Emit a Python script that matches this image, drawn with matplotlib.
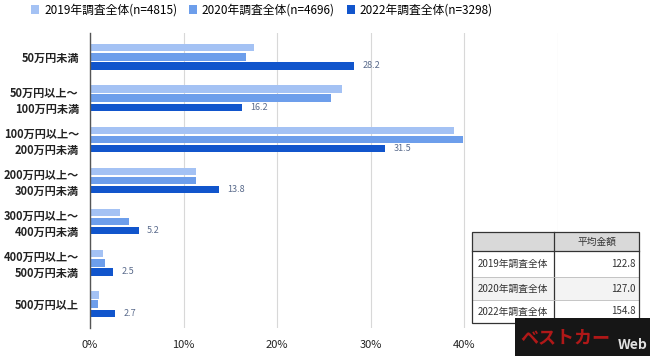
import matplotlib.pyplot as plt
from matplotlib.patches import Rectangle
import numpy as np

plt.rcParams['font.family'] = ['Noto Sans CJK JP', 'DejaVu Sans']

categories = ['50万円未満', '50万円以上～\n100万円未満', '100万円以上～\n200万円未満',
              '200万円以上～\n300万円未満', '300万円以上～\n400万円未満',
              '400万円以上～\n500万円未満', '500万円以上']
series_names = ['2019年調査全体(n=4815)', '2020年調査全体(n=4696)', '2022年調査全体(n=3298)']
v2019 = [17.5, 26.9, 38.9, 11.3, 3.2, 1.4, 1.0]
v2020 = [16.7, 25.8, 39.8, 11.3, 4.2, 1.6, 0.9]
v2022 = [28.2, 16.2, 31.5, 13.8, 5.2, 2.5, 2.7]
table_rows = ['2019年調査全体', '2020年調査全体', '2022年調査全体']
table_vals = ['122.8', '127.0', '154.8']
colors = ['#a4c2f4', '#6d9eeb', '#1155cc']


def main():
    fig = plt.figure(figsize=(6.5, 3.56), dpi=100)
    ax = fig.add_axes([90 / 650, 1 - 328 / 356, 468 / 650, 295 / 356])

    y = np.arange(len(categories))
    pitch = 0.22
    h = 0.175
    for i, (vals, c) in enumerate(zip([v2019, v2020, v2022], colors)):
        ax.barh(y + (i - 1) * pitch, vals, height=h, color=c, label=series_names[i], zorder=3)
    for yy, v in zip(y, v2022):
        ax.text(v + 0.9, yy + pitch, f'{v:.1f}', va='center', ha='left',
                fontsize=6.5, color='#5a6b8c')

    ax.set_ylim(len(categories) - 0.5 + 0.08, -0.5 - 0.08)
    ax.set_xlim(0, 50)
    ax.set_xticks([0, 10, 20, 30, 40, 50])
    ax.set_xticklabels(['0%', '10%', '20%', '30%', '40%', ''])
    ax.set_yticks(y)
    ax.set_yticklabels(categories, fontsize=8, fontweight='bold', linespacing=1.3)
    ax.tick_params(length=0, pad=8, colors='#222222')
    ax.tick_params(axis='x', labelsize=8, pad=9)
    ax.grid(axis='x', color='#d8d8d8', lw=0.8, zorder=0)
    for s in ['top', 'right', 'bottom']:
        ax.spines[s].set_visible(False)
    ax.spines['left'].set_color('#555555')
    ax.spines['left'].set_linewidth(1.0)
    ax.spines['left'].set_zorder(4)

    # Legend across the top
    fig.legend(*ax.get_legend_handles_labels(), loc='center left',
               bbox_to_anchor=(31 / 650, 1 - 10 / 356), ncol=3, frameon=False,
               fontsize=8.5, handlelength=0.7, handleheight=0.7, handletextpad=0.4,
               columnspacing=1.0, borderaxespad=0, borderpad=0)

    # Summary table in the lower right
    W, H = 650, 356

    def fx(px):
        return px / W

    def fy(py):
        return 1 - py / H

    x0, x1, xm = 472, 639, 554
    rows_y = [232, 251, 277, 300, 323]
    fig.patches.append(Rectangle((fx(x0), fy(rows_y[4])), fx(x1) - fx(x0),
                                 fy(rows_y[0]) - fy(rows_y[4]), transform=fig.transFigure,
                                 facecolor='white', edgecolor='none', zorder=5))
    fig.patches.append(Rectangle((fx(x0), fy(rows_y[1])), fx(x1) - fx(x0),
                                 fy(rows_y[0]) - fy(rows_y[1]), transform=fig.transFigure,
                                 facecolor='#d9d9d9', edgecolor='none', zorder=5))
    fig.patches.append(Rectangle((fx(x0), fy(rows_y[3])), fx(x1) - fx(x0),
                                 fy(rows_y[2]) - fy(rows_y[3]), transform=fig.transFigure,
                                 facecolor='#f3f3f3', edgecolor='none', zorder=5))
    fig.patches.append(Rectangle((fx(x0), fy(rows_y[4])), fx(x1) - fx(x0),
                                 fy(rows_y[0]) - fy(rows_y[4]), transform=fig.transFigure,
                                 facecolor='none', edgecolor='#333333', lw=0.9, zorder=6))
    fig.lines.append(plt.Line2D([fx(xm), fx(xm)], [fy(rows_y[0]), fy(rows_y[4])],
                                transform=fig.transFigure, color='#333333', lw=0.9, zorder=6))
    fig.lines.append(plt.Line2D([fx(x0), fx(x1)], [fy(rows_y[1]), fy(rows_y[1])],
                                transform=fig.transFigure, color='#333333', lw=0.9, zorder=6))
    for ry in rows_y[2:4]:
        fig.lines.append(plt.Line2D([fx(x0), fx(x1)], [fy(ry), fy(ry)],
                                    transform=fig.transFigure, color='#bbbbbb', lw=0.6, zorder=6))
    fig.text(fx((xm + x1) / 2), fy(241.5), '平均金額', ha='center', va='center',
             fontsize=7, color='#333333', zorder=7)
    for i, (name, val) in enumerate(zip(table_rows, table_vals)):
        cy = (rows_y[i + 1] + rows_y[i + 2]) / 2
        fig.text(fx(x0 + 6), fy(cy), name, ha='left', va='center', fontsize=7,
                 color='#333333', zorder=7)
        fig.text(fx(x1 - 3), fy(cy), val, ha='right', va='center', fontsize=7,
                 color='#333333', zorder=7)

    # Watermark logo
    fig.patches.append(Rectangle((fx(515), 0), 1 - fx(515), fy(318), transform=fig.transFigure,
                                 facecolor='#161616', edgecolor='none', zorder=8))
    fig.text(fx(520), fy(338), 'ベストカー', ha='left', va='center', fontsize=13,
             fontweight='bold', style='italic', color='#b01818', zorder=9)
    fig.text(fx(648), fy(345), 'Web', ha='right', va='center', fontsize=10,
             fontweight='bold', color='#e0e0e0', zorder=9)

    fig.savefig('out.png', dpi=100)
    plt.close()


if __name__ == "__main__":
    main()
